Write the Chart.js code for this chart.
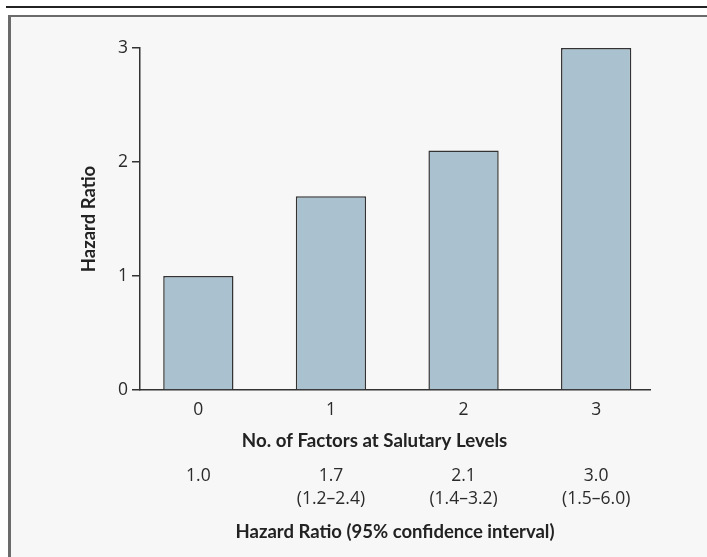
<!DOCTYPE html>
<html>
<head>
<meta charset="utf-8">
<script src="https://cdn.jsdelivr.net/npm/chart.js@4.4.0/dist/chart.umd.min.js"></script>
<style>
  html, body { margin: 0; padding: 0; background: #fff; }
  #wrap { position: relative; width: 707px; height: 557px; overflow: hidden; }
  #rule { position: absolute; left: 6px; right: 0; top: 6px; height: 2px; background: #222; }
  #panel { position: absolute; left: 8px; right: -10px; top: 15px; bottom: -10px;
           background: #f7f7f7; border-left: 3px solid #6b6b6b; border-top: 2px solid #6b6b6b; }
  canvas { position: absolute; left: 0; top: 0; }
</style>
</head>
<body>
<div id="wrap">
  <div id="rule"></div>
  <div id="panel"></div>
  <canvas id="myChart" width="707" height="557"></canvas>
</div>
<script>
// chart data
const categories = ['0', '1', '2', '3'];
const hazardRatios = [1.0, 1.7, 2.1, 3.0];
const hrLabels = ['1.0', '1.7', '2.1', '3.0'];
const ciLabels = ['', '(1.2\u20132.4)', '(1.4\u20133.2)', '(1.5\u20136.0)'];
const yTicks = [0, 1, 2, 3];

const TICK_FONT = 'Open Sans';
const TITLE_FONT = 'Lato';
const TICK_SIZE = 17.5;
const ink = '#2b2b2b';

// x range a bit off-centre, like the original figure
const xMin = -0.44, xMax = 3.406;

const catTicks = function(scale) {
    scale.ticks = categories.map((c, i) => ({ value: i }));
};

document.addEventListener("DOMContentLoaded", function() {
    const ctx = document.getElementById('myChart').getContext('2d');

    new Chart(ctx, {
        type: 'bar',
        data: {
            datasets: [{
                data: hazardRatios.map((v, i) => ({ x: i, y: v })),
                backgroundColor: '#aac2cf',
                borderColor: '#333',
                borderWidth: 1.5,
                borderSkipped: 'bottom',
                barPercentage: 0.53,
                categoryPercentage: 1
            }]
        },
        options: {
            responsive: false,
            animation: false,
            layout: { padding: { top: 48, right: 57, left: 0, bottom: 0 } },
            plugins: { legend: { display: false }, tooltip: { enabled: false } },
            scales: {
                x: {
                    type: 'linear',
                    position: 'bottom',
                    offset: false,
                    min: xMin, max: xMax,
                    weight: 0,
                    afterBuildTicks: catTicks,
                    afterFit(scale) { scale.height = 63; },
                    grid: { display: false, drawTicks: false },
                    border: { display: true, color: '#333', width: 1.5 },
                    ticks: {
                        padding: 9.5,
                        color: ink,
                        font: { family: TICK_FONT, size: TICK_SIZE },
                        callback: (v) => categories[v]
                    },
                    title: {
                        display: true,
                        // trailing spaces nudge the title left, as in the source figure
                        text: 'No. of Factors at Salutary Levels' + '\u00a0'.repeat(9),
                        color: '#222',
                        font: { family: TITLE_FONT, size: 18.7, weight: 'bold' },
                        padding: { top: 0, bottom: 1 }
                    }
                },
                x2: {
                    type: 'linear',
                    axis: 'x',
                    position: 'bottom',
                    offset: false,
                    min: xMin, max: xMax,
                    weight: 1,
                    afterBuildTicks: catTicks,
                    afterFit(scale) { scale.height = 104; },
                    grid: { display: false, drawTicks: false },
                    border: { display: false },
                    ticks: {
                        padding: 11.5,
                        color: ink,
                        font: { family: TICK_FONT, size: TICK_SIZE, lineHeight: 23 / TICK_SIZE },
                        callback: (v) => ciLabels[v] ? [hrLabels[v], ciLabels[v]] : [hrLabels[v]]
                    },
                    title: {
                        display: true,
                        text: 'Hazard Ratio (95% confidence interval)',
                        color: '#222',
                        font: { family: TITLE_FONT, size: 18.5, weight: 'bold' },
                        padding: { top: 0, bottom: 14 }
                    }
                },
                y: {
                    min: 0, max: 3,
                    afterBuildTicks: function(scale) {
                        scale.ticks = yTicks.map(v => ({ value: v }));
                    },
                    afterFit(scale) { scale.width = 140; },
                    grid: { drawOnChartArea: false, drawTicks: true, tickLength: 8, color: '#333', lineWidth: 1.5 },
                    border: { display: true, color: '#333', width: 1.5 },
                    ticks: {
                        padding: 4,
                        color: ink,
                        font: { family: TICK_FONT, size: TICK_SIZE }
                    },
                    title: {
                        display: true,
                        text: 'Hazard Ratio',
                        color: '#222',
                        font: { family: TITLE_FONT, size: 18.5, weight: 'bold' },
                        padding: { top: 78, bottom: 0 }
                    }
                }
            }
        }
    });
});
</script>
</body>
</html>
